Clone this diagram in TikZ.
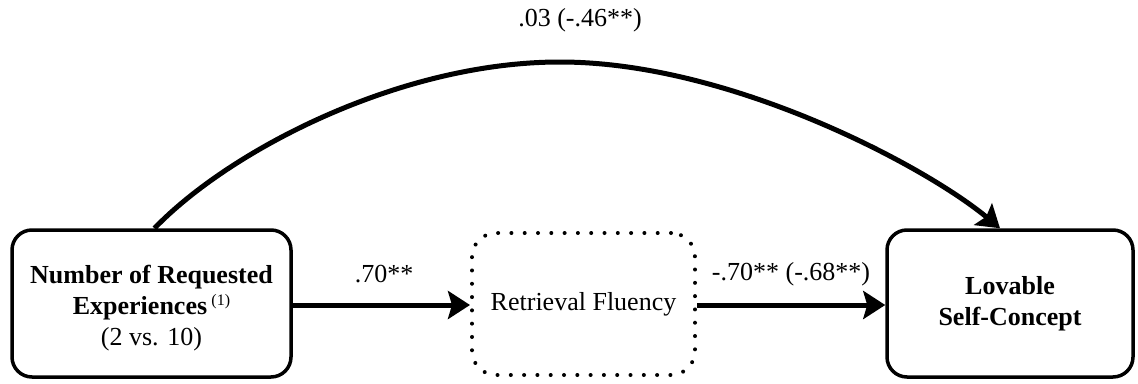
\documentclass[tikz,border=0pt]{standalone}
\usepackage{fontspec}
\setmainfont{Liberation Serif}
\usetikzlibrary{arrows.meta,calc}
\begin{document}
\begin{tikzpicture}[x=1pt,y=-1pt,
  font=\fontsize{26}{31}\selectfont,
  varbox/.style={draw,line width=3.5pt,rounded corners=20pt,align=center,
    inner sep=0pt,minimum height=147pt},
  fluencybox/.style={draw,line width=4pt,line cap=round,
    dash pattern=on 0pt off 13.3pt,rounded corners=24pt,
    inner sep=0pt,minimum width=223pt,minimum height=142pt},
  path/.style={line width=5pt,-{Stealth[length=22pt,width=28pt,inset=4pt]}},
  coef/.style={inner sep=0pt}]
\useasboundingbox (0,0) rectangle (1138,383);
\node[varbox,minimum width=279pt] (A) at (151.5,303.5)
  {\raisebox{-5pt}[\height][\depth]{\begin{tabular}{@{}c@{}}
   \textbf{Number of Requested}\\
   \textbf{Experiences}\,{\fontsize{16}{18}\selectfont\raisebox{9pt}{(1)}}\\
   (2 vs. 10)\end{tabular}}};
\node[fluencybox] (M) at (583.5,304) {Retrieval Fluency};
\node[varbox,minimum width=246pt] (B) at (1010,303.5)
  {\textbf{Lovable}\\ \textbf{Self-Concept}};
% highest point of the direct-effect arc
\coordinate (arcTop) at (560,62);
\draw[path] (A.east |- 0,305) -- (M.west |- 0,305);
\draw[path] (M.east |- 0,305) -- (B.west |- 0,305);
\draw[path] ([xshift=3pt]A.north) .. controls (230,150) and (400,62) .. (arcTop)
  .. controls (730,62) and (925,166) .. ([xshift=-10pt]B.north);
\node[coef] (a) at (384,274) {.70**};
\node[coef] (b) at (791,274) {-.70** (-.68**)};
\node[coef] (c) at (580,20) {.03 (-.46**)};
\end{tikzpicture}
\end{document}
